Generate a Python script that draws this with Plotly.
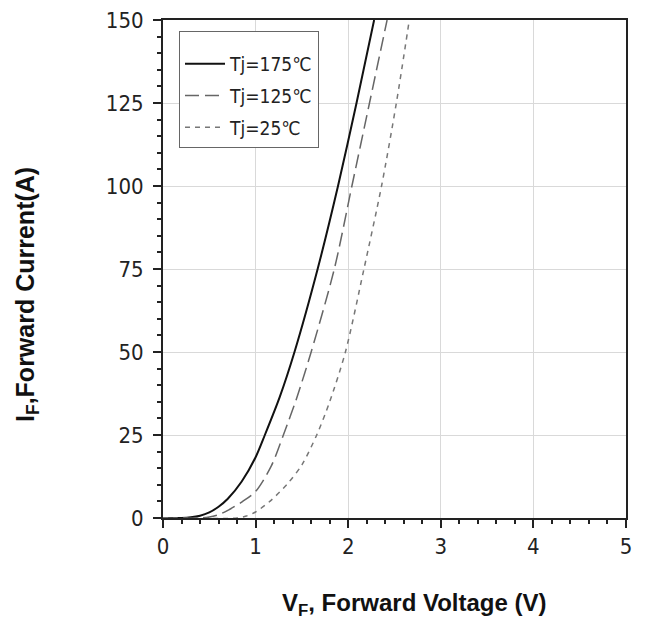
import plotly.graph_objects as go

# Forward characteristics
v_175 = [0, 0.2, 0.3, 0.4, 0.5, 0.6, 0.7, 0.85, 1.0, 1.10, 1.26, 1.42, 1.67, 1.89, 2.09, 2.28]
i_175 = [0, 0, 0.2, 0.7, 1.7, 3.4, 5.8, 11, 18.3, 25, 36.4, 50, 75, 100, 125, 150]

v_125 = [0, 0.4, 0.5, 0.6, 0.7, 0.85, 1.0, 1.17, 1.30, 1.44, 1.60, 1.85, 2.04, 2.23, 2.42]
i_125 = [0, 0, 0.3, 1.0, 2.3, 4.8, 8.0, 15.7, 25, 35.8, 50, 75, 100, 125, 150]

v_25 = [0, 0.8, 0.9, 1.0, 1.17, 1.35, 1.5, 1.66, 1.80, 1.97, 2.17, 2.36, 2.52, 2.66]
i_25 = [0, 0, 0.6, 1.8, 5.4, 10.5, 16, 25, 35, 50, 75, 100, 125, 150]

names = ["Tj=175℃", "Tj=125℃", "Tj=25℃"]
x_ticks = [0, 1, 2, 3, 4, 5]
y_ticks = [0, 25, 50, 75, 100, 125, 150]

NARROW = "DejaVu Sans Condensed, Liberation Sans Narrow, Arial Narrow, Liberation Sans, sans-serif"
BOLD = "Liberation Sans, Arial, sans-serif"

# page is drawn with an 8px body offset; plot box targets (page px): x 164-626, y 20-518
L, R, T, B = 155, 30, 12, 126
PW, PH = 648 - L - R, 636 - T - B

fig = go.Figure()
fig.add_trace(go.Scatter(x=v_175, y=i_175, mode="lines", name=names[0], legendgroup="a",
                         line=dict(color="#111111", width=2, dash="solid", shape="spline", smoothing=0.8)))
fig.add_trace(go.Scatter(x=v_125, y=i_125, mode="lines", name=names[1], legendgroup="b",
                         line=dict(color="#666666", width=1.5, dash="14px,6px", shape="spline", smoothing=0.8)))
fig.add_trace(go.Scatter(x=v_25, y=i_25, mode="lines", name=names[2], legendgroup="c",
                         line=dict(color="#777777", width=1.5, dash="5px,5px", shape="spline", smoothing=0.8)))

fig.update_layout(
    width=648, height=636,
    margin=dict(l=L, r=R, t=T, b=B, autoexpand=False),
    paper_bgcolor="white", plot_bgcolor="white",
    font=dict(family=NARROW, size=19, color="#222222"),
    showlegend=True,
    legend=dict(x=(171 - L) / PW, y=(510 - 23) / PH, xanchor="left", yanchor="top",
                bgcolor="white", bordercolor="#666666", borderwidth=1,
                font=dict(family=NARROW, size=19, color="#222222"),
                title=dict(text=" ", font=dict(size=10)),
                tracegroupgap=4, itemwidth=40),
)

fig.update_xaxes(range=[0, 5], tickvals=x_ticks, ticktext=[str(t) for t in x_ticks],
                 automargin=False, ticklabeloverflow="allow",
                 showline=True, linecolor="#222222", linewidth=2, mirror=True,
                 ticks="outside", ticklen=8, tickwidth=2, tickcolor="#222222",
                 showgrid=True, gridcolor="#d9d9d9", gridwidth=1, zeroline=False,
                 minor=dict(dtick=0.2, ticks="outside", ticklen=4, tickwidth=1.5,
                            tickcolor="#222222", showgrid=False),
                 tickfont=dict(family=NARROW, size=22))
fig.update_yaxes(range=[0, 150], tickvals=y_ticks, ticktext=[str(t) for t in y_ticks],
                 automargin=False, ticklabeloverflow="allow", ticklabelstandoff=5,
                 showline=True, linecolor="#222222", linewidth=2, mirror=True,
                 ticks="outside", ticklen=8, tickwidth=2, tickcolor="#222222",
                 showgrid=True, gridcolor="#d9d9d9", gridwidth=1, zeroline=False,
                 minor=dict(dtick=5, ticks="outside", ticklen=4, tickwidth=1.5,
                            tickcolor="#222222", showgrid=False),
                 tickfont=dict(family=NARROW, size=22))

fig.add_annotation(text="<b>V<sub>F</sub>, Forward Voltage (V)</b>", xref="paper", yref="paper",
                   x=(406 - L) / PW, y=-(596 - 510) / PH, xanchor="center", yanchor="middle",
                   showarrow=False, font=dict(family=BOLD, size=24, color="#111111"))
fig.add_annotation(text="<b>I<sub>F</sub>,Forward Current(A)</b>", xref="paper", yref="paper",
                   x=-(L - 19) / PW, y=(510 - 287) / PH, xanchor="center", yanchor="middle",
                   textangle=-90, showarrow=False, font=dict(family=BOLD, size=25, color="#111111"))

fig.write_html("out.html")
